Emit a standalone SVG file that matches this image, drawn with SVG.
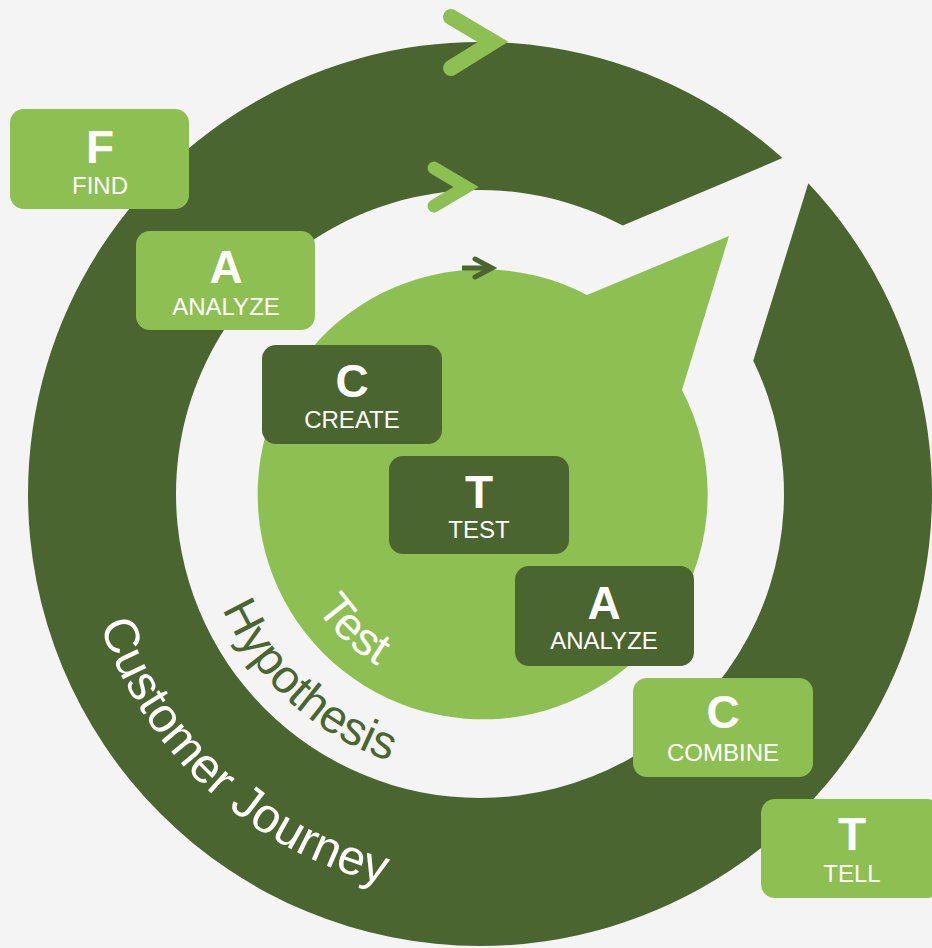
<svg xmlns="http://www.w3.org/2000/svg" width="932" height="948" viewBox="0 0 932 948">
<style>
.dark{fill:#4a6530}
.light{fill:#8dbf53}
.big{font-family:"Liberation Sans",Arial,sans-serif;font-weight:bold;font-size:46px;fill:#ffffff;text-anchor:middle}
.lbl{font-family:"Liberation Sans",Arial,sans-serif;font-size:24px;fill:#ffffff;text-anchor:middle}
.arc{font-family:"Liberation Sans",Arial,sans-serif}
.chev{fill:none;stroke:#8dbf53;stroke-linecap:round;stroke-linejoin:miter}
</style>
<defs>
<path id="pCJ" d="M99.8,624.9 A402,402 0 0 0 549.8,889.9"/>
<path id="pHy" d="M222.4,608.7 A282,282 0 0 0 480,776"/>
<path id="pTe" d="M316.2,608.7 A200,200 0 0 0 480,694"/>
</defs>
<rect width="932" height="948" fill="#f4f4f4"/>
<g id="ring-customer-journey">
<path class="dark" d="M808.32,183.34 A452,452 0 0 1 480,946 A452,452 0 0 1 28,494 A452,452 0 0 1 782.45,158.1 L622.72,225.58 A304,304 0 0 0 176,494 A304,304 0 0 0 480,798 A304,304 0 0 0 753.23,360.73 Z"/>
<text class="arc" font-size="49" fill="#ffffff"><textPath href="#pCJ">Customer Journey</textPath></text>
</g>
<g id="ring-hypothesis">
<text class="arc" font-size="47" fill="#4a6530"><textPath href="#pHy">Hypothesis</textPath></text>
</g>
<g id="circle-test">
<path class="light" d="M587,295 L729,236 L682,390 A225,225 0 1 1 587,295 Z"/>
<text class="arc" font-size="46" fill="#ffffff"><textPath href="#pTe">Test</textPath></text>
</g>
<g id="connectors">
<polyline class="chev" stroke-width="16" points="451,17 493,42 451,68"/>
<polyline class="chev" stroke-width="13" points="434,168 466,187 434,206"/>
<line x1="462" y1="268" x2="490" y2="268" stroke="#4a6530" stroke-width="5"/>
<polyline points="475,259 492,268 475,277" fill="none" stroke="#4a6530" stroke-width="5" stroke-linecap="round"/>
</g>
<g id="node-find">
<rect class="light" x="10" y="109" width="179" height="100" rx="14"/>
<text class="big" x="100" y="163">F</text>
<text class="lbl" x="100" y="194">FIND</text>
</g>
<g id="node-analyze1">
<rect class="light" x="136" y="231" width="179" height="99" rx="14"/>
<text class="big" x="226" y="283">A</text>
<text class="lbl" x="226" y="315">ANALYZE</text>
</g>
<g id="node-create">
<rect class="dark" x="262" y="345" width="180" height="99" rx="14"/>
<text class="big" x="352" y="397">C</text>
<text class="lbl" x="352" y="428">CREATE</text>
</g>
<g id="node-test">
<rect class="dark" x="389" y="456" width="180" height="98" rx="14"/>
<text class="big" x="479" y="508">T</text>
<text class="lbl" x="479" y="538">TEST</text>
</g>
<g id="node-analyze2">
<rect class="dark" x="515" y="566" width="179" height="100" rx="14"/>
<text class="big" x="604" y="619">A</text>
<text class="lbl" x="604" y="649">ANALYZE</text>
</g>
<g id="node-combine">
<rect class="light" x="633" y="678" width="180" height="99" rx="14"/>
<text class="big" x="723" y="728">C</text>
<text class="lbl" x="723" y="761">COMBINE</text>
</g>
<g id="node-tell">
<rect class="light" x="761" y="799" width="180" height="99" rx="14"/>
<text class="big" x="852" y="850">T</text>
<text class="lbl" x="852" y="882">TELL</text>
</g>
</svg>
